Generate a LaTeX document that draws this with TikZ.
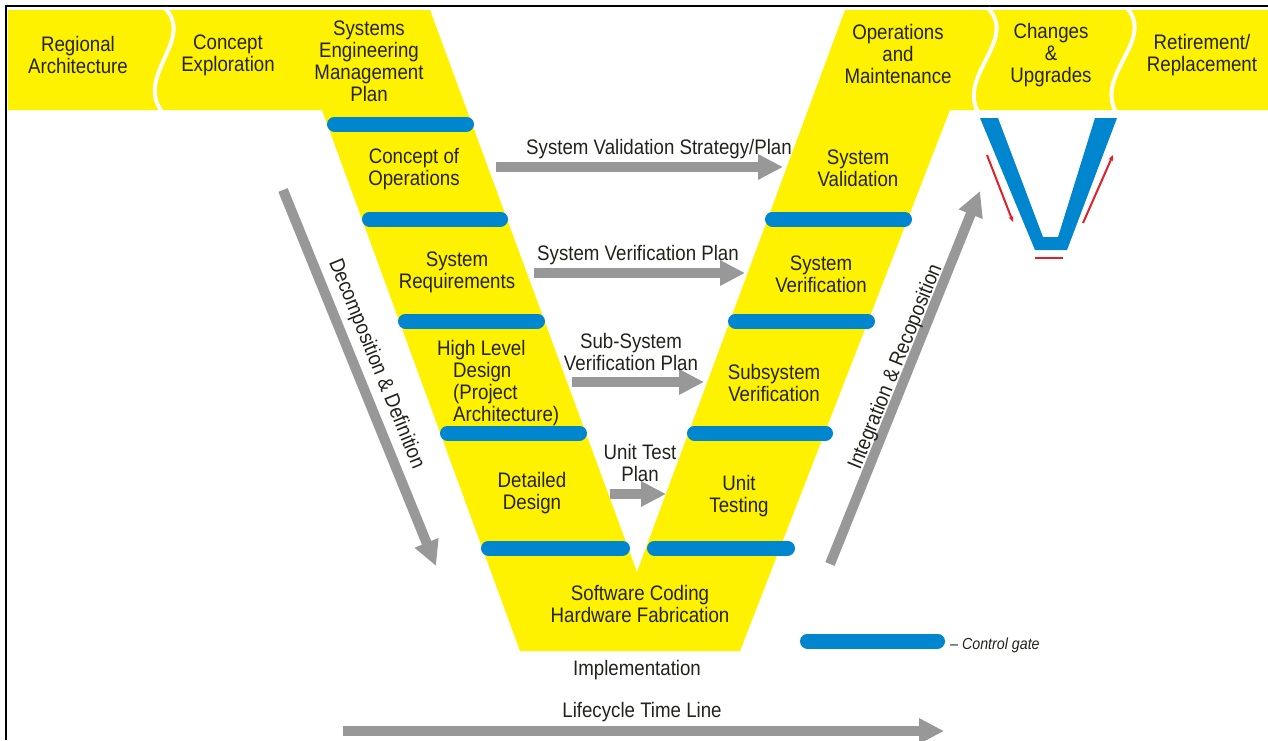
\documentclass[tikz,border=0pt]{standalone}
\usepackage{fontspec}
\setmainfont{Liberation Sans}[FakeStretch=0.89]
\usetikzlibrary{arrows.meta}
\definecolor{vyellow}{RGB}{255,242,0}
\definecolor{gateblue}{RGB}{0,134,206}
\definecolor{flowgray}{RGB}{152,152,152}
\definecolor{inkdark}{RGB}{35,35,28}
\definecolor{markred}{RGB}{222,32,40}

\begin{document}
\begin{tikzpicture}[x=1pt,y=-1pt,
  lbl/.style={font=\fontsize{21}{22}\selectfont, text=inkdark, align=center, inner sep=0pt},
  gate/.style={draw=gateblue, line width=15pt, line cap=round},
  flow/.style={draw=flowgray, line width=10pt, -{Triangle[length=25pt,width=24pt]}},
  redmark/.style={draw=markred, line width=2pt},
]
\useasboundingbox (0,0) rectangle (1268,740);
\fill[white] (0,0) rectangle (1268,740);

% frame
\draw[black, line width=2pt] (6,740) -- (6,6) -- (1268,6);

% lifecycle band with the V
\fill[vyellow] (8,10) -- (430,10) -- (637,572) -- (845,10) -- (1268,10)
  -- (1268,110) -- (950,110) -- (740,651) -- (520,651) -- (322,110)
  -- (8,110) -- cycle;

% wavy separators in the top band
\draw[white, line width=4pt] (165,8) .. controls (195,40) and (135,75) .. (162,112);
\draw[white, line width=4pt] (988,8) .. controls (1018,40) and (958,75) .. (978,112);
\draw[white, line width=4pt] (1127,8) .. controls (1155,40) and (1095,75) .. (1116,112);

% control gates
\foreach \yy/\xa/\xb in {124/327/474, 219/362/508, 321/398/545, 433/440/587, 548/481/630,
                         219/765/912, 321/728/875, 433/687/833, 548/647/795, 641/800/945}
  \draw[gate] (\xa+7.5,\yy) -- (\xb-7.5,\yy);

% small V icon
\fill[gateblue] (980,118) -- (998,118) -- (1043,237) -- (1058,237) -- (1095,118)
  -- (1117,118) -- (1067,250) -- (1035,250) -- cycle;
\coordinate (rdA) at (987,155);  \coordinate (rdB) at (1013,222);
\coordinate (ruA) at (1083,223); \coordinate (ruB) at (1113,155);
\coordinate (rbA) at (1035,258); \coordinate (rbB) at (1063,258);
\draw[redmark, -{Stealth[length=6pt,width=5pt]}] (rdA) -- (rdB);
\draw[redmark, -{Stealth[length=6pt,width=5pt]}] (ruA) -- (ruB);
\draw[redmark] (rbA) -- (rbB);

% top band labels
\node[lbl] (regarch) at (78,55) {Regional\\Architecture};
\node[lbl] (conexp) at (228,55) {Concept\\Exploration};
\node[lbl] (semp) at (369,61) {Systems\\Engineering\\Management\\Plan};
\node[lbl] (opsmaint) at (898,54) {Operations\\and\\Maintenance};
\node[lbl] (changes) at (1051,55) {Changes\\\&\\Upgrades};
\node[lbl] (retire) at (1202,55) {Retirement/\\Replacement};

% left arm
\node[lbl] (conops) at (414,169) {Concept of\\Operations};
\node[lbl] (sysreq) at (457,272) {System\\Requirements};
\node[lbl, align=left, anchor=north west] (hld) at (437,340)
  {High Level\\\hspace*{16pt}Design\\\hspace*{16pt}(Project\\\hspace*{16pt}Architecture)};
\node[lbl] (detdes) at (532,493) {Detailed\\Design};

% bottom
\node[lbl] (coding) at (640,604) {Software Coding\\Hardware Fabrication};
\node[lbl] (impl) at (637,670) {Implementation};

% right arm
\node[lbl] (sysval) at (858,168) {System\\Validation};
\node[lbl] (sysver) at (821,274) {System\\Verification};
\node[lbl] (subver) at (774,383) {Subsystem\\Verification};
\node[lbl] (unittest) at (739,496) {Unit\\Testing};

% planning arrows between the arms
\coordinate (valS) at (496,167);  \coordinate (valE) at (783,167);
\coordinate (verS) at (534,273);  \coordinate (verE) at (745,273);
\coordinate (subS) at (572,382);  \coordinate (subE) at (704,382);
\coordinate (utS)  at (610,494);  \coordinate (utE)  at (666,494);
\draw[flow] (valS) -- (valE);
\draw[flow] (verS) -- (verE);
\draw[flow] (subS) -- (subE);
\draw[flow] (utS) -- (utE);
\node[lbl] (valplan) at (659,149) {System Validation Strategy/Plan};
\node[lbl] (verplan) at (638,255) {System Verification Plan};
\node[lbl] (subplan) at (631,352) {Sub-System\\Verification Plan};
\node[lbl] (utplan) at (640,463) {Unit Test\\Plan};

% decomposition / integration arrows
\coordinate (decS) at (283,190); \coordinate (decE) at (436,566);
\coordinate (intS) at (830,564); \coordinate (intE) at (980,191);
\draw[flow] (decS) -- (decE);
\draw[flow] (intS) -- (intE);
\node[lbl, rotate=-67.9] (decomp) at (376,364) {Decomposition \& Definition};
\node[lbl, rotate=68.1] (integ) at (896,367) {Integration \& Recoposition};

% time line
\coordinate (lifeS) at (343,731); \coordinate (lifeE) at (944,731);
\draw[flow] (lifeS) -- (lifeE);
\node[lbl] (lifelbl) at (642,712) {Lifecycle Time Line};

% legend
\node[font=\itshape\fontsize{16}{18}\selectfont, text=inkdark, inner sep=0pt, anchor=west]
  (gatekey) at (950,645) {– Control gate};
\end{tikzpicture}
\end{document}
